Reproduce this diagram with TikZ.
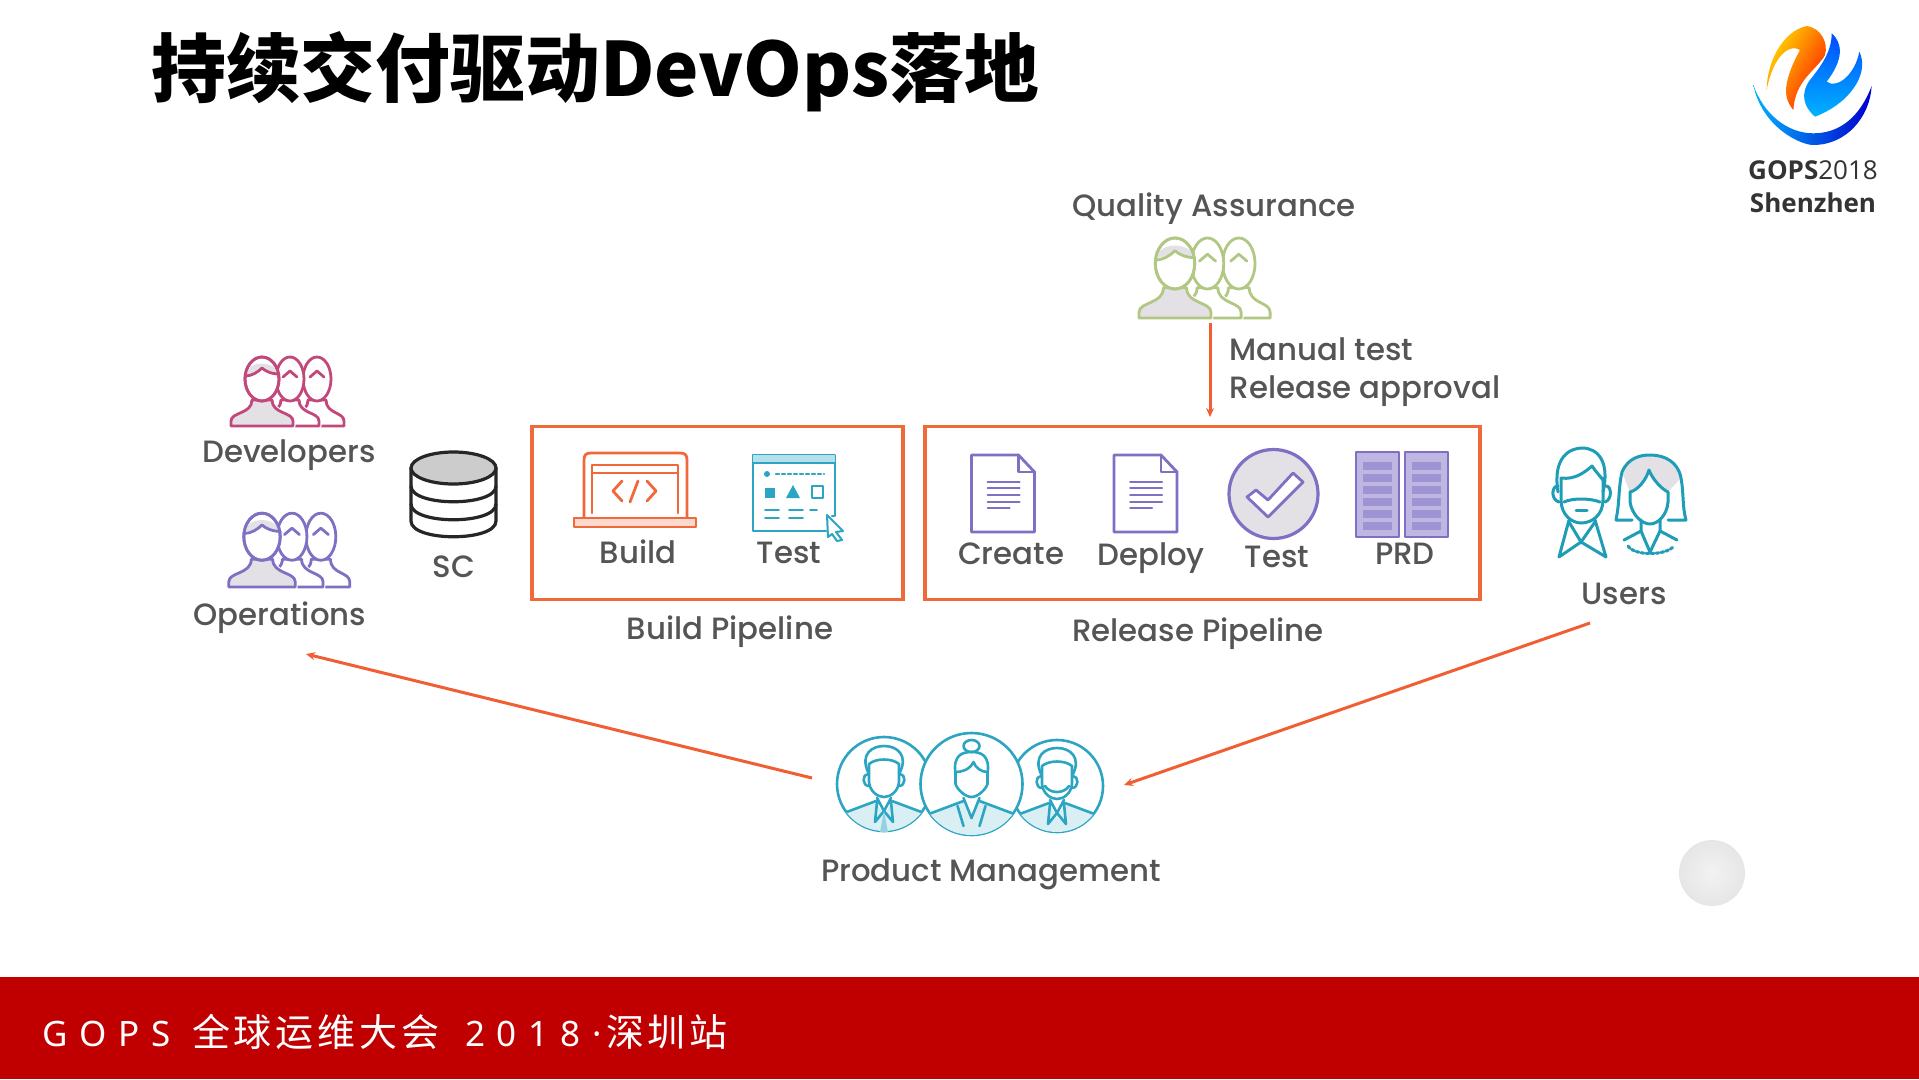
\documentclass[tikz,border=0pt]{standalone}
\usepackage{fontspec}
\setmainfont{Poppins}[UprightFont=* Medium]
\newfontfamily\cjk{Noto Sans CJK SC}
\newfontfamily\cjkfoot{Noto Sans CJK SC}[LetterSpace=10]
\newfontfamily\latinfoot{Noto Sans}[LetterSpace=34]
\newfontfamily\logofont{Open Sans}
\definecolor{pipeorange}{HTML}{F0693A}
\definecolor{labelgray}{HTML}{555555}
\definecolor{footred}{HTML}{C00000}
\definecolor{devred}{HTML}{C2487C}
\definecolor{opspurple}{HTML}{7F70C4}
\definecolor{qagreen}{HTML}{B2C783}
\definecolor{iconblue}{HTML}{2BA5C2}
\definecolor{userblue}{HTML}{1F9DB6}
\definecolor{softfill}{HTML}{E3E1E6}
\usetikzlibrary{arrows.meta}
\tikzset{
  lbl/.style={text=labelgray,font=\fontsize{30.8}{30.8}\selectfont},
  pipebox/.style={draw=pipeorange,line width=3.6pt,minimum height=173pt},
  flowline/.style={draw=pipeorange!90!red,line width=3pt,-{Stealth[length=9pt,width=8pt]}},
  icon/.style={line width=2.8pt,line join=round,line cap=round}
}
\pgfdeclareradialshading{blob}{\pgfpoint{0bp}{0bp}}{color(0bp)=(black!5); color(26bp)=(black!10); color(40bp)=(black!20); color(50bp)=(white)}
% one group of three heads, drawn from the back
\newcommand{\peoplegroup}[4]{%
  \begin{scope}[shift={(#1,#2)},scale=#3,icon,draw=#4]
    \foreach \px/\pw in {55/27,28/29}{
      \path[draw=white,fill=white,line width=5pt] (\px-\pw,0) -- (\px-\pw,-5) .. controls (\px-\pw,-14) and (\px-9,-12) .. (\px-9,-26) -- (\px+9,-26) .. controls (\px+9,-12) and (\px+\pw,-14) .. (\px+\pw,-5) -- (\px+\pw,0) -- cycle;
      \draw (\px-\pw,0) -- (\px-\pw,-5) .. controls (\px-\pw,-14) and (\px-9,-12) .. (\px-9,-26) -- (\px+9,-26) .. controls (\px+9,-12) and (\px+\pw,-14) .. (\px+\pw,-5) -- (\px+\pw,0) -- cycle;
      \draw[fill=white] (\px,-47) ellipse (14 and 22);
      \draw (\px-7,-49) -- (\px,-55) -- (\px+7,-49);
    }
    \path[draw=white,line width=5pt] (-31,0) -- (-31,-5) .. controls (-31,-14) and (-10,-12) .. (-10,-26) -- (10,-26) .. controls (10,-12) and (31,-14) .. (31,-5) -- (31,0) -- cycle;
    \draw[fill=softfill] (-31,0) -- (-31,-5) .. controls (-31,-14) and (-10,-12) .. (-10,-26) -- (10,-26) .. controls (10,-12) and (31,-14) .. (31,-5) -- (31,0) -- cycle;
    \draw[fill=white] (0,-47) ellipse (17 and 22);
    \fill[softfill] (-16,-52) .. controls (-14,-66) and (14,-66) .. (16,-52) .. controls (6,-52) and (2,-58) .. (0,-58) .. controls (-4,-54) and (-10,-52) .. (-16,-52) -- cycle;
    \draw (-17,-50) .. controls (-10,-50) and (-4,-54) .. (0,-58) .. controls (2,-56) and (8,-52) .. (17,-52);
    \draw (0,-47) ellipse (17 and 22);
  \end{scope}
}
% one round portrait of the product group
\newcommand{\bust}[3]{%
  \begin{scope}[shift={(#1,#2)},icon,draw=iconblue,line width=2.6pt]
    \draw[fill=white] (0,0) circle (#3);
    \begin{scope}
      \clip (0,0) circle (#3);
      \fill[iconblue!18] (-48,32) -- (-8,17) -- (0,32) -- (8,17) -- (48,32) -- (48,60) -- (-48,60) -- cycle;
      \draw (-48,32) -- (-8,17) (48,32) -- (8,17);
    \end{scope}
  \end{scope}
}
\begin{document}
\begin{tikzpicture}[x=1pt,y=-1pt]
  \useasboundingbox (0,0) rectangle (1919,1079);
  \fill[white] (0,0) rectangle (1919,1079);
  \fill[footred] (0,977) rectangle (1919,1079);
  \node[anchor=west,inner sep=0pt,text=black,font=\cjk\bfseries\fontsize{74.8}{74.8}\selectfont] (title) at (151,72) {持续交付驱动DevOps落地};
  \node[anchor=west,inner sep=0pt,text=white,font=\cjkfoot\fontsize{38}{38}\selectfont] (foot) at (42,1032) {{\latinfoot\fontsize{35}{35}\selectfont GOPS }全球运维大会\kern 26pt{\latinfoot\fontsize{35}{35}\selectfont 2018·}\kern 4pt 深圳站};

  % logo
  \begin{scope}[shift={(1700,0)},x=0.3333pt,y=-0.3333pt]
    \shade[left color=yellow!70!orange,right color=red!80!orange,shading angle=60] (200,270) .. controls (200,190) and (245,95) .. (320,78) .. controls (365,85) and (385,130) .. (375,165) .. controls (350,210) and (285,240) .. (280,330) .. controls (255,300) and (240,260) .. (300,150) .. controls (270,130) and (220,165) .. (200,270) -- cycle;
    \shade[top color=blue!70!cyan,bottom color=cyan!70!blue] (395,100) .. controls (430,130) and (430,180) .. (380,245) .. controls (410,268) and (465,225) .. (478,155) .. controls (510,220) and (450,310) .. (345,350) .. controls (310,320) and (300,280) .. (330,240) .. controls (370,190) and (395,150) .. (395,100) -- cycle;
    \shade[left color=cyan!70!blue,right color=blue!80!black] (160,255) .. controls (185,380) and (300,435) .. (340,435) .. controls (440,435) and (510,350) .. (515,258) .. controls (480,350) and (420,400) .. (340,400) .. controls (260,400) and (190,340) .. (160,255) -- cycle;
  \end{scope}
  \node[inner sep=0pt,text=black!80,font=\logofont\fontsize{26}{26}\selectfont] (logoa) at (1813,170) {{\bfseries GOPS}2018};
  \node[inner sep=0pt,text=black!80,font=\logofont\bfseries\fontsize{26}{26}\selectfont] (logob) at (1813,203) {Shenzhen};

  % people
  \peoplegroup{262}{426}{1}{devred}
  \peoplegroup{262}{587}{1.07}{opspurple}
  \peoplegroup{1175}{318}{1.16}{qagreen}
  \node[lbl] (dev) at (289,455) {Developers};
  \node[lbl] (ops) at (280,618) {Operations};
  \node[lbl] (qa) at (1214,209) {Quality Assurance};
  \node[lbl,anchor=west] (manual) at (1226,349) {Manual test};
  \node[lbl,anchor=west] (approval) at (1226,391) {Release approval};

  % source store
  \begin{scope}[icon,draw=black!85,line width=3.2pt]
    \draw (411,468) -- (411,521) .. controls (411,542) and (496,542) .. (496,521) -- (496,468);
    \draw (411,504) .. controls (411,525) and (496,525) .. (496,504);
    \draw (411,486) .. controls (411,507) and (496,507) .. (496,486);
    \draw[fill=black!20] (453.5,468) ellipse (42.5 and 16);
  \end{scope}
  \node[lbl] (sc) at (454,567) {SC};

  % pipelines
  \node[pipebox,minimum width=371pt] (buildbox) at (717.5,513) {};
  \node[pipebox,minimum width=555pt] (releasebox) at (1202.5,513) {};
  \node[lbl] (build) at (638,552) {Build};
  \node[lbl] (tests) at (789,553) {Test};
  \node[lbl] (buildpipe) at (730,632) {Build Pipeline};
  \node[lbl] (create) at (1011,554) {Create};
  \node[lbl] (deploy) at (1151,558) {Deploy};
  \node[lbl] (testr) at (1277,557) {Test};
  \node[lbl] (prd) at (1405,554) {PRD};
  \node[lbl] (relpipe) at (1198,634) {Release Pipeline};

  % laptop
  \begin{scope}[icon,draw=pipeorange]
    \draw (584,517) -- (584,460) .. controls (584,455) and (586,453) .. (591,453) -- (680,453) .. controls (685,453) and (687,455) .. (687,460) -- (687,517);
    \draw (592,513) -- (592,465) -- (678,465) -- (678,513);
    \draw (592,473) -- (678,473);
    \draw[fill=pipeorange!25] (574,518) rectangle (696,527);
    \draw (622,481) -- (613,491) -- (622,501);
    \draw (638,481) -- (630,502);
    \draw (647,481) -- (656,491) -- (647,501);
  \end{scope}

  % browser window
  \begin{scope}[icon,draw=iconblue,line width=2.2pt]
    \draw (832,516) -- (835,516) -- (835,455) -- (753,455) -- (753,531) -- (826,531);
    \fill[iconblue!35] (753,455) rectangle (835,463);
    \draw (753,463) -- (835,463);
    \fill[iconblue] (767,474) circle (3);
    \draw[dashed] (776,474) -- (824,474);
    \fill[iconblue] (765,498) rectangle (775,488);
    \fill[iconblue] (793,485) -- (800,498) -- (786,498) -- cycle;
    \draw (812,486) rectangle (823,498);
    \foreach \yl in {510,518}{
      \draw[line width=1.8pt] (765,\yl) -- (779,\yl) (789,\yl) -- (803,\yl);
    }
    \draw[line width=1.8pt] (810,510) -- (817,510);
    \draw[fill=white,line width=2pt] (827,515) -- (843,531) -- (836,532) -- (842,540) -- (837,541) -- (832,534) -- (828,537) -- cycle;
  \end{scope}

  % documents
  \foreach \dl in {971.5,1114}{
    \begin{scope}[icon,draw=opspurple,shift={(\dl,0)}]
      \draw (0,455) -- (47,455) -- (63,472) -- (63,532) -- (0,532) -- cycle;
      \draw (47,455) -- (47,472) -- (63,472);
      \foreach \yl in {482,488,495,502}{
        \draw[line width=2pt] (16,\yl) -- (48,\yl);
      }
      \draw[line width=2pt] (16,508) -- (38,508);
    \end{scope}
  }

  % check mark
  \begin{scope}[icon,draw=opspurple]
    \draw[fill=softfill,line width=3.2pt] (1273.5,494) circle (44.5);
    \draw[fill=white] (1247,497) -- (1268,517) -- (1303,482) -- (1293,473) -- (1268,500) -- (1256,490) -- cycle;
  \end{scope}

  % racks
  \foreach \rl in {1356,1405}{
    \begin{scope}[icon,draw=opspurple,shift={(\rl,0)}]
      \draw[fill=opspurple!50] (0,452) rectangle (43,537);
      \foreach \yl in {462,474,486,498,510,522}{
        \fill[opspurple!75] (7,\yl) rectangle (36,\yl+8);
      }
    \end{scope}
  }

  % users
  \begin{scope}[icon,draw=userblue,line width=3pt]
    \draw (1558,492) .. controls (1552,455) and (1572,448) .. (1582,448) .. controls (1598,448) and (1610,462) .. (1603,492);
    \draw (1561,478) .. controls (1575,480) and (1585,472) .. (1592,466) .. controls (1596,472) and (1600,476) .. (1603,480);
    \draw (1561,478) -- (1561,500) .. controls (1561,515) and (1572,523) .. (1581,523) .. controls (1592,523) and (1603,515) .. (1603,500) -- (1603,478);
    \draw (1558,486) .. controls (1551,486) and (1551,500) .. (1559,502);
    \draw (1606,486) .. controls (1612,486) and (1612,500) .. (1605,502);
    \draw (1564,502) .. controls (1572,498) and (1590,498) .. (1600,502);
    \draw (1576,510) -- (1587,510);
    \draw (1569,520) -- (1559,557) -- (1581,542) -- (1606,557) -- (1595,520);
    \draw (1569,522) -- (1581,542) -- (1595,522);
    \fill[softfill] (1622,472) .. controls (1628,458) and (1640,455) .. (1650,455) .. controls (1665,455) and (1678,462) .. (1681,478) -- (1668,492) .. controls (1660,488) and (1652,478) .. (1649,470) .. controls (1646,480) and (1638,490) .. (1630,492) -- cycle;
    \draw (1632,520) -- (1616,520) .. controls (1620,500) and (1618,490) .. (1622,472) .. controls (1628,458) and (1640,455) .. (1650,455) .. controls (1665,455) and (1678,462) .. (1681,478) .. controls (1684,495) and (1682,505) .. (1686,520) -- (1668,520);
    \draw (1630,492) .. controls (1638,490) and (1646,480) .. (1649,470) .. controls (1652,478) and (1660,488) .. (1668,492);
    \draw (1630,492) -- (1630,502) .. controls (1632,515) and (1642,524) .. (1650,524) .. controls (1658,524) and (1667,515) .. (1668,502) -- (1668,492);
    \draw (1641,520) -- (1641,531) -- (1624,540);
    \draw (1660,520) -- (1660,531) -- (1677,540);
    \draw (1641,531) -- (1650,552) -- (1660,531);
    \draw[dotted] (1628,546) .. controls (1634,556) and (1666,556) .. (1674,546);
  \end{scope}
  \node[lbl] (users) at (1624,594) {Users};

  % product management
  \bust{884}{784}{47}
  \bust{1057}{786}{46}
  \bust{971.5}{784}{51}
  \begin{scope}[icon,draw=iconblue,line width=2.6pt]
    \foreach \cx/\cy in {884/784,1057/786}{
      \begin{scope}[shift={(\cx,\cy)}]
        \draw (-16,-12) .. controls (-24,-30) and (-12,-38) .. (0,-38) .. controls (14,-38) and (24,-28) .. (16,-12);
        \draw (-15,-20) -- (-15,-2) .. controls (-14,8) and (-6,13) .. (0,13) .. controls (6,13) and (14,8) .. (15,-2) -- (15,-20) .. controls (8,-26) and (-8,-26) .. (-15,-20);
        \draw (-16,-10) .. controls (-22,-10) and (-22,2) .. (-15,2);
        \draw (16,-10) .. controls (22,-10) and (22,2) .. (15,2);
        \draw (-7,14) -- (0,27) -- (7,14) (-7,18) -- (-9,38) -- (0,27) -- (9,38) -- (7,18);
      \end{scope}
    }
    \fill[iconblue!50] (884,811) -- (880,832) -- (888,832) -- cycle;
    \draw (1045,786) .. controls (1050,794) and (1064,794) .. (1069,786);
    \begin{scope}[shift={(971.5,784)}]
      \draw (0,-38) ellipse (8 and 6);
      \draw (-16,-10) .. controls (-19,-30) and (-8,-32) .. (0,-32) .. controls (8,-32) and (19,-30) .. (16,-10);
      \draw (-16,-12) .. controls (-10,-12) and (-2,-14) .. (2,-22) .. controls (4,-16) and (10,-12) .. (16,-12);
      \draw (-16,-12) -- (-16,0) .. controls (-14,6) and (-6,13) .. (0,13);
      \draw (16,-12) -- (16,0) .. controls (14,6) and (6,13) .. (0,13);
      \draw (-8,14) -- (0,34) -- (8,14);
      \draw (-14,22) -- (-8,42);
      \draw (14,22) -- (8,42);
    \end{scope}
  \end{scope}
  \node[lbl] (pm) at (991,874) {Product Management};

  % connectors
  \coordinate (qaout) at (1210,323);
  \coordinate (qain) at (1210,417);
  \coordinate (pmleft) at (812,778);
  \coordinate (opsin) at (306,654);
  \coordinate (usersout) at (1590,623);
  \coordinate (pmright) at (1124,785);
  \draw[flowline] (qaout) -- (qain);
  \draw[flowline] (pmleft) -- (opsin);
  \draw[flowline] (usersout) -- (pmright);

  \shade[shading=blob] (1712,873) circle (33);
\end{tikzpicture}
\end{document}
